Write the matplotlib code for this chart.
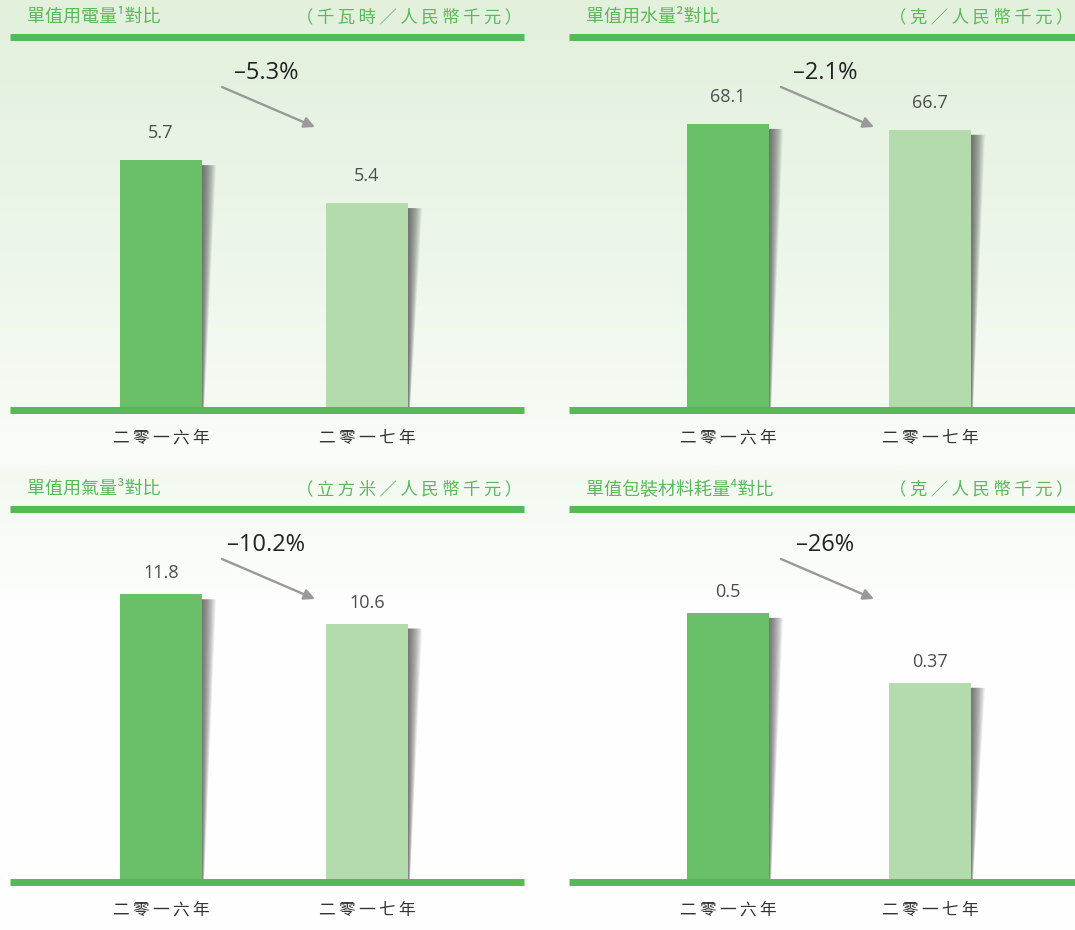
import matplotlib
matplotlib.use("Agg")
import matplotlib.pyplot as plt
import numpy as np
from matplotlib.colors import to_rgb
from matplotlib.patches import Polygon

W, H = 1075, 930
CJK = ["Noto Sans CJK TC", "DejaVu Sans"]
NUM = ["Open Sans", "DejaVu Sans"]
DARK, LIGHT, LINE, TITLE = "#6abf69", "#b3dbac", "#55b955", "#5cb85c"

# ---- data ----
years = ["二零一六年", "二零一七年"]
titles = ["單值用電量¹對比", "單值用水量²對比", "單值用氣量³對比", "單值包裝材料耗量⁴對比"]
units = ["（千瓦時／人民幣千元）", "（克／人民幣千元）", "（立方米／人民幣千元）", "（克／人民幣千元）"]
electricity = [5.7, 5.4]
water = [68.1, 66.7]
gas = [11.8, 10.6]
packaging = [0.5, 0.37]
labels = [["5.7", "5.4"], ["68.1", "66.7"], ["11.8", "10.6"], ["0.5", "0.37"]]
changes = ["\u20135.3%", "\u20132.1%", "\u201310.2%", "\u201326%"]
series = [electricity, water, gas, packaging]
ylims = [(3.956, 6.56), (0, 88.8), (0, 15.3), (0, 0.693)]

# panel boxes in pixels: left, right, header line y, baseline y, bar centres
boxes = [(10, 524, 37, 410, 161, 367), (569, 1075, 37, 410, 728, 930),
         (10, 524, 509, 882, 161, 367), (569, 1075, 509, 882, 728, 930)]


def spaced(s):
    # widen the tracking a little, like the original typesetting
    return "\u2009".join(s)


fig = plt.figure(figsize=(W / 100, H / 100), dpi=100)

# background: pale green wash fading to white
bg = fig.add_axes([0, 0, 1, 1], zorder=0)
stops_y = [0, 250, 400, 462, 472, 600, 930]
stops_c = ["#e2f0dc", "#edf6ea", "#f5faf3", "#fbfdfa", "#f3f9f1", "#fdfefd", "#ffffff"]
ys = np.arange(H)
cols = np.array([to_rgb(c) for c in stops_c])
grad = np.stack([np.interp(ys, stops_y, cols[:, k]) for k in range(3)], axis=1)
bg.imshow(grad[:, None, :], aspect="auto", extent=[0, 1, 0, 1])
bg.axis("off")


def fx(px):
    return px / W


def fy(py):
    return 1 - py / H


for i, (vals, lab, box) in enumerate(zip(series, labels, boxes)):
    left, right, top, base, c0, c1 = box
    spacing = c1 - c0
    ax = fig.add_axes([fx(left), fy(base), (right - left) / W, (base - top) / H], zorder=2)
    ax.patch.set_alpha(0)
    ax.set_xlim(-(c0 - left) / spacing, (right - c0) / spacing)
    ax.set_ylim(*ylims[i])
    sx = spacing  # px per x unit
    sy = (base - top) / (ylims[i][1] - ylims[i][0])
    w = 82 / spacing
    xs = np.arange(len(vals))
    ax.bar(xs, np.array(vals) - ylims[i][0], bottom=ylims[i][0], width=w,
           color=[DARK, LIGHT], zorder=3)
    # soft shadow on the right of each bar
    for xc, v in zip(xs, vals):
        xr = xc + w / 2
        yt = v - 5 / sy
        yb = ylims[i][0]
        n = 14
        for k in range(n):
            wt = 14 / sx * (k + 1) / n
            wb = 2 / sx * (k + 1) / n
            ax.add_patch(Polygon([(xr, yt), (xr + wt, yt), (xr + wb, yb), (xr, yb)],
                                 closed=True, fc="#3a3a3a", ec="none", alpha=0.075, zorder=2))
    off = 27 if i < 2 else 21
    for xc, v, t in zip(xs, vals, lab):
        ax.annotate(t, (xc, v), xytext=(0, off * 0.72), textcoords="offset points",
                    ha="center", va="center", fontsize=13, color="#4d4d4d", family=NUM)
    for yl in ylims[i]:
        ax.axhline(yl, color=LINE, lw=5, clip_on=False, zorder=4, solid_capstyle="butt")
    ax.axis("off")

    # header texts
    hy = top - 20
    fig.text(fx(left + 17), fy(hy), titles[i], family=CJK, fontsize=13, color=TITLE,
             weight="medium", ha="left", va="center")
    ur = right - 2 if right < 1075 else 1073
    fig.text(fx(ur), fy(hy), spaced(units[i]), family=CJK, fontsize=12.5, color=TITLE,
             ha="right", va="center")
    # year labels
    for c, yr in zip((c0, c1), years):
        fig.text(fx(c), fy(base + 28), spaced(yr), family=CJK, fontsize=12, color="#333333",
                 ha="center", va="center")
    # change arrow and label
    ax.annotate("", xy=(fx(left + 305), fy(top + 90)), xytext=(fx(left + 212), fy(top + 50)),
                xycoords="figure fraction", textcoords="figure fraction",
                arrowprops=dict(arrowstyle="-|>", color="#999999", lw=1.7, mutation_scale=16,
                                shrinkA=0, shrinkB=0))
    fig.text(fx(left + 256), fy(top + 36), changes[i], family=NUM, fontsize=17, color="#222222",
             ha="center", va="center")

fig.savefig("out.png", dpi=100)
